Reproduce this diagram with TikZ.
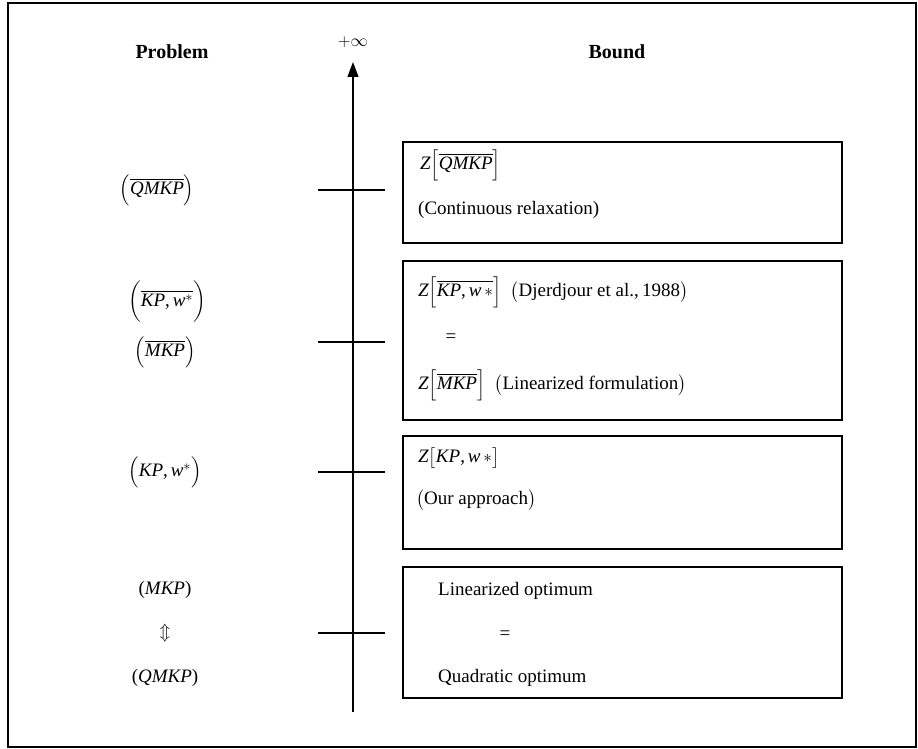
\documentclass[tikz,border=0pt]{standalone}
\usepackage{fontspec}
\setmainfont{Liberation Serif}
\usepackage{amsmath}
\usetikzlibrary{arrows.meta}
\newcommand{\mi}[1]{\textit{#1}}
\newcommand{\cm}{\textup{,}\,}
\tikzset{
  bbox/.style={draw, line width=1.6pt, minimum width=439pt, inner sep=0pt},
  txt/.style={anchor=west, inner sep=0pt, font=\fontsize{19}{22}\selectfont},
  lbl/.style={inner sep=0pt, font=\fontsize{19}{22}\selectfont},
  head/.style={inner sep=0pt, font=\fontsize{20}{24}\selectfont\bfseries},
  tick/.style={line width=1.2pt},
}
\begin{document}
\begin{tikzpicture}[x=1pt,y=-1pt]
\useasboundingbox (0,0) rectangle (918,749);
\draw[line width=1.4pt] (8,3) rectangle (916,747);
% headers
\node[head] (hp) at (172,52) {Problem};
\node[lbl, font=\fontsize{16}{18}\selectfont] (inf) at (353,42) {$+\infty$};
\node[head] (hb) at (617,52) {Bound};
% axis
\coordinate (axb) at (353,712);
\coordinate (axt) at (353,62);
\draw[line width=1.2pt, -{Triangle[width=11pt,length=15pt]}] (axb) -- (axt);
% boxes
\node[bbox, minimum height=101pt] (b1) at (622.5,192.5) {};
\node[bbox, minimum height=159pt] (b2) at (622.5,340.5) {};
\node[bbox, minimum height=113pt] (b3) at (622.5,492.5) {};
\node[bbox, minimum height=131pt] (b4) at (622.5,632.5) {};
% ticks
\coordinate (t1l) at (318,190); \coordinate (t1r) at (385,190);
\coordinate (t2l) at (318,342); \coordinate (t2r) at (385,342);
\coordinate (t3l) at (318,472); \coordinate (t3r) at (385,472);
\coordinate (t4l) at (318,633); \coordinate (t4r) at (385,633);
\draw[tick] (t1l) -- (t1r);
\draw[tick] (t2l) -- (t2r);
\draw[tick] (t3l) -- (t3r);
\draw[tick] (t4l) -- (t4r);
% box 1
\node[txt] (b1a) at (420,165) {$\mi{Z}\Bigl[\overline{\mi{QMKP}}\Bigr]$};
\node[txt] (b1b) at (418,210) {(Continuous relaxation)};
% box 2
\node[txt] (b2a) at (418,292) {$\mi{Z}\Bigl[\overline{\mi{KP}\cm \mi{w}\,*}\Bigr]$\enspace$\bigl($Djerdjour et al.,\,1988$\bigr)$};
\node[lbl] (b2b) at (451,338) {=};
\node[txt] (b2c) at (418,385) {$\mi{Z}\Bigl[\overline{\mi{MKP}}\Bigr]$\enspace$\bigl($Linearized formulation$\bigr)$};
% box 3
\node[txt] (b3a) at (418,458) {$\mi{Z}\bigl[\mi{KP}\cm \mi{w}\,*\bigr]$};
\node[txt] (b3b) at (416,500) {$\bigl($Our approach$\bigr)$};
% box 4
\node[txt] (b4a) at (438,591) {Linearized optimum};
\node[lbl] (b4b) at (505,635) {=};
\node[txt] (b4c) at (438,678) {Quadratic optimum};
% left labels
\node[lbl] (l1) at (157,190) {$\Bigl(\overline{\mi{QMKP}}\Bigr)$};
\node[lbl] (l2a) at (167,302) {$\biggl(\overline{\mi{KP}\cm \mi{w}^{*}}\biggr)$};
\node[lbl] (l2b) at (165,352) {$\Bigl(\overline{\mi{MKP}}\Bigr)$};
\node[lbl] (l3) at (165,472) {$\Bigl(\mi{KP}\cm \mi{w}^{*}\Bigr)$};
\node[lbl] (l4a) at (165,590) {(\mi{MKP})};
\node[lbl] (l4b) at (165,633) {$\Updownarrow$};
\node[lbl] (l4c) at (165,678) {(\mi{QMKP})};
\end{tikzpicture}
\end{document}
